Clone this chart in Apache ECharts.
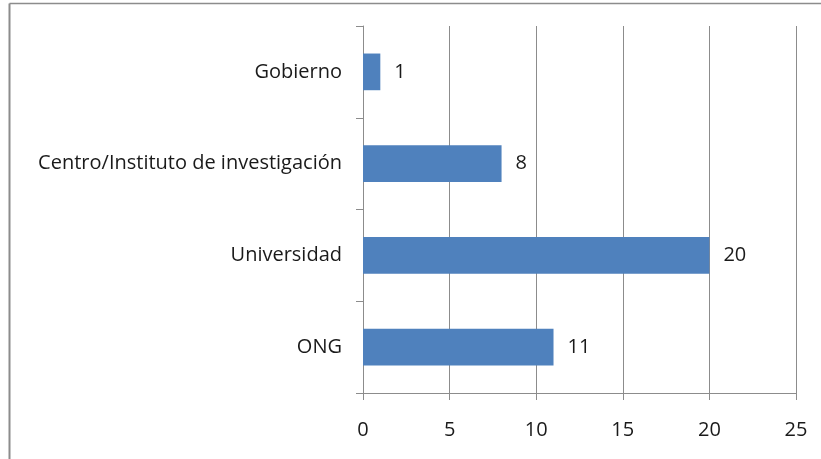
<!DOCTYPE html>
<html>
<head>
<meta charset="utf-8">
<script src="https://cdn.jsdelivr.net/npm/echarts@6/dist/echarts.min.js"></script>
<style>
  html, body { margin: 0; padding: 0; background: #fff; }
  #chart { width: 821px; height: 459px; }
</style>
</head>
<body>
<div id="chart"></div>
<script>
// categories listed bottom to top (as the y axis draws them)
const categories = ['ONG', 'Universidad', 'Centro/Instituto de investigación', 'Gobierno'];
const counts = [11, 20, 8, 1];
const xTicks = [0, 5, 10, 15, 20, 25];

const chart = echarts.init(document.getElementById('chart'));
const textColor = '#1a1a1a';
const fontFamily = '"Open Sans", sans-serif';

chart.setOption({
  animation: false,
  textStyle: { fontFamily: fontFamily },
  grid: { left: 363, right: 25, top: 26, bottom: 66 },
  xAxis: {
    type: 'value',
    min: xTicks[0],
    max: xTicks[xTicks.length - 1],
    interval: 5,
    axisLine: { show: true, lineStyle: { color: '#8c8c8c', width: 1 } },
    axisTick: { show: true, length: 7, lineStyle: { color: '#8c8c8c' } },
    axisLabel: { color: textColor, fontSize: 20, margin: 27, fontFamily: fontFamily },
    splitLine: { show: true, lineStyle: { color: '#8c8c8c', width: 1 } }
  },
  yAxis: {
    type: 'category',
    data: categories,
    axisLine: { show: true, lineStyle: { color: '#8c8c8c', width: 1 } },
    axisTick: { show: true, length: 7, lineStyle: { color: '#8c8c8c' } },
    axisLabel: { color: textColor, fontSize: 20, margin: 21, fontFamily: fontFamily }
  },
  series: [{
    type: 'bar',
    data: counts,
    barWidth: '40%',
    itemStyle: { color: '#4f81bd' },
    label: {
      show: true,
      position: 'right',
      distance: 14,
      color: textColor,
      fontSize: 20,
      fontFamily: fontFamily
    }
  }],
  graphic: [
    { type: 'line', shape: { x1: 9.5, y1: 3.5, x2: 821, y2: 3.5 }, style: { stroke: '#8c8c8c', lineWidth: 1.5 } },
    { type: 'line', shape: { x1: 9.5, y1: 3.5, x2: 9.5, y2: 459 }, style: { stroke: '#8c8c8c', lineWidth: 2 } }
  ]
});
</script>
</body>
</html>
